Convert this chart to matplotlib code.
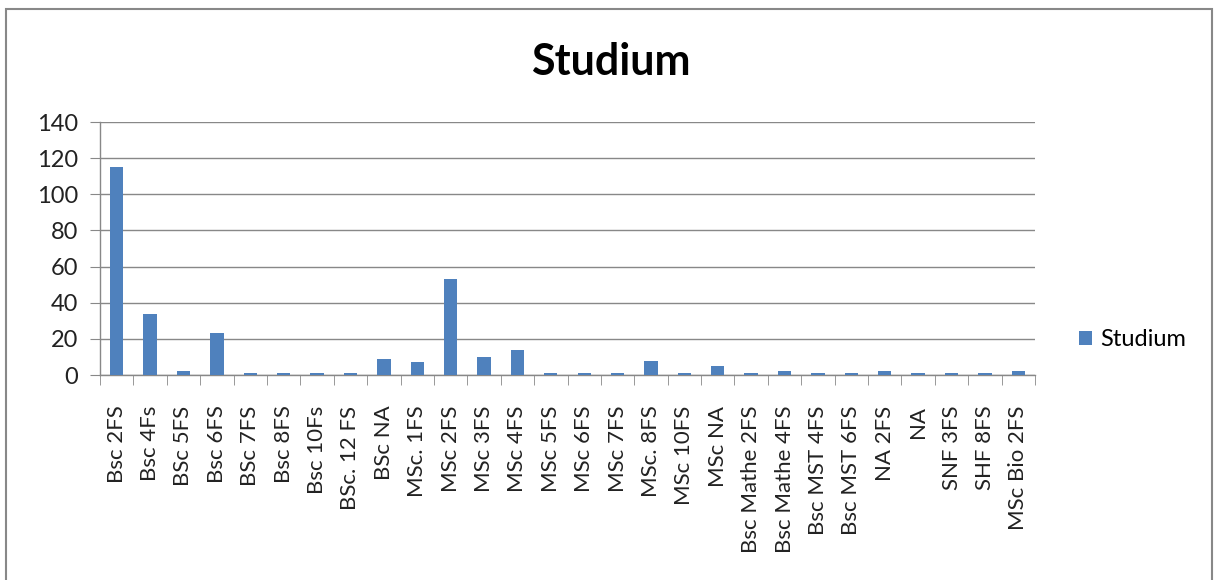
import matplotlib
matplotlib.use("Agg")
import matplotlib.pyplot as plt
import numpy as np
from matplotlib.patches import Rectangle

categories = ["Bsc 2FS", "Bsc 4Fs", "BSc 5FS", "Bsc 6FS", "BSc 7FS", "Bsc 8FS",
              "Bsc 10Fs", "BSc. 12 FS", "BSc NA", "MSc. 1FS", "MSc 2FS", "MSc 3FS",
              "MSc 4FS", "MSc 5FS", "MSc 6FS", "MSc 7FS", "MSc. 8FS", "MSc 10FS",
              "MSc NA", "Bsc Mathe 2FS", "Bsc Mathe 4FS", "Bsc MST 4FS",
              "Bsc MST 6FS", "NA 2FS", "NA", "SNF 3FS", "SHF 8FS", "MSc Bio 2FS"]
values = [115, 34, 2, 23, 1, 1, 1, 1, 9, 7, 53, 10, 14, 1, 1, 1, 8, 1, 5,
          1, 2, 1, 1, 2, 1, 1, 1, 2]
yticks = [0, 20, 40, 60, 80, 100, 120, 140]
series_name = "Studium"

plt.rcParams['font.family'] = ['Lato', 'DejaVu Sans']

W, H = 1215, 580
fig = plt.figure(figsize=(W / 100, H / 100), dpi=100)

# outer chart border
fig.patches.append(Rectangle((6 / W, -0.05), (1212 - 6) / W, 1.05 - 9 / H,
                             transform=fig.transFigure, fill=False,
                             edgecolor="#888888", linewidth=1.5))

left, right, top, bottom = 100, 1035, 122, 375
ax = fig.add_axes([left / W, 1 - bottom / H, (right - left) / W, (bottom - top) / H])

x = np.arange(len(categories))
ax.bar(x, values, width=0.4, color="#4F81BD", label=series_name, zorder=3)

ax.set_xlim(-0.5, len(categories) - 0.5)
ax.set_ylim(0, 140)
ax.set_yticks(yticks)
ax.set_yticklabels([str(v) for v in yticks], fontsize=17, color="#222222")
ax.yaxis.grid(True, color="#888888", linewidth=1.0, zorder=0)
ax.tick_params(axis='y', length=7, color="#888888", pad=9)

ax.set_xticks(x)
ax.set_xticklabels(categories, rotation=90, fontsize=16, color="#222222", va='top')
ax.tick_params(axis='x', which='major', length=0, pad=22)
ax.set_xticks(np.arange(-0.5, len(categories)), minor=True)
ax.tick_params(axis='x', which='minor', length=7, color="#888888")

for s in ['top', 'right']:
    ax.spines[s].set_visible(False)
for s in ['left', 'bottom']:
    ax.spines[s].set_color("#888888")
    ax.spines[s].set_linewidth(1.0)

fig.text(611 / W, 1 - 62 / H, "Studium", ha='center', va='center',
         fontsize=31, fontweight='bold', color="#000000")

leg = fig.legend(loc='center left', bbox_to_anchor=(1079 / W, 1 - 340 / H),
                 frameon=False, fontsize=17, handlelength=0.55, handleheight=0.55,
                 handletextpad=0.35, borderpad=0, borderaxespad=0)

fig.savefig("out.png", dpi=100, facecolor="white")
